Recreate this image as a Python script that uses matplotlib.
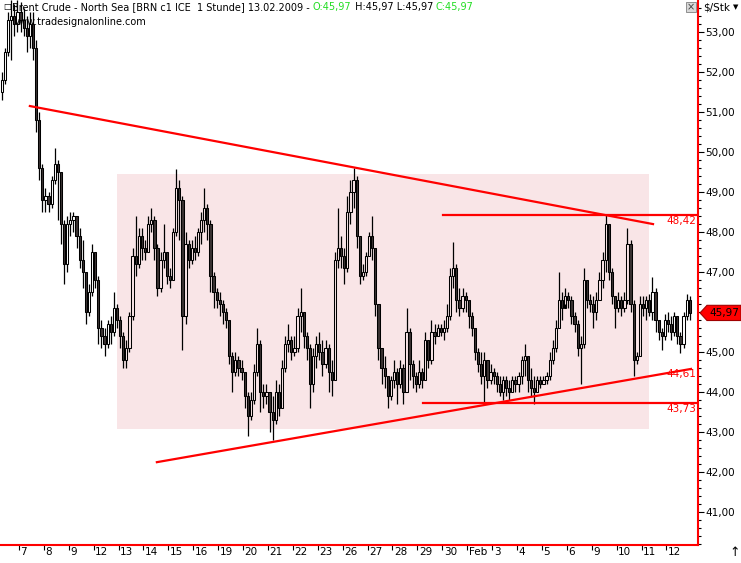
import matplotlib
matplotlib.use('Agg')
import matplotlib.pyplot as plt
import numpy as np
from matplotlib.patches import Rectangle, Polygon
from matplotlib.ticker import MultipleLocator

# Brent Crude hourly, 6 Jan - 12 Feb 2009 (8 bars per trading day, Jan 6 partial)
first_open = 51.5
closes = [
    51.8, 52.5, 53.3, 53.4, 53.2, 53.5,                      # 6
    53.3, 53.1, 52.9, 53.2, 52.6, 50.8, 49.6, 48.8,          # 7
    48.9, 48.7, 49.3, 49.7, 49.5, 48.2, 47.2, 48.2,          # 8
    48.3, 48.4, 47.9, 47.3, 47.0, 46.0, 46.5, 47.5,          # 9
    46.8, 45.6, 45.4, 45.2, 45.7, 45.5, 46.1, 45.8,          # 12
    45.4, 44.8, 45.1, 45.9, 47.4, 47.2, 47.9, 47.6,          # 13
    47.5, 48.2, 48.3, 47.6, 46.6, 47.3, 47.5, 46.9,          # 14
    46.8, 48.0, 49.1, 48.8, 45.9, 47.7, 47.3, 47.6,          # 15
    47.5, 48.0, 48.3, 48.6, 48.2, 46.9, 46.5, 46.3,          # 16
    46.2, 46.0, 45.8, 44.9, 44.5, 44.8, 44.6, 44.5,          # 19
    43.9, 43.4, 43.8, 44.5, 45.2, 44.0, 43.9, 44.0,          # 20
    43.5, 43.3, 44.0, 43.6, 44.6, 45.2, 45.3, 45.0,          # 21
    45.1, 45.9, 46.0, 45.4, 45.1, 44.2, 44.9, 45.2,          # 22
    45.0, 44.7, 45.1, 44.5, 44.3, 47.3, 47.6, 47.4,          # 23
    47.1, 48.5, 49.0, 49.3, 47.9, 46.9, 47.0, 47.4,          # 26
    47.9, 47.6, 46.2, 45.1, 44.6, 44.4, 43.9, 44.3,          # 27
    44.5, 44.2, 44.6, 44.0, 45.5, 44.7, 44.4, 44.2,          # 28
    44.5, 44.3, 45.3, 44.8, 45.5, 45.4, 45.6, 45.5,          # 29
    45.6, 45.9, 46.9, 47.1, 46.3, 46.1, 46.4, 46.3,          # 30
    45.9, 45.6, 45.0, 44.7, 44.4, 44.8, 44.3, 44.5,          # Feb 2
    44.4, 44.2, 44.0, 44.3, 44.1, 44.0, 44.3, 44.2,          # 3
    44.4, 44.8, 44.9, 44.3, 44.1, 44.0, 44.3, 44.2,          # 4
    44.3, 44.4, 44.8, 45.1, 45.6, 46.3, 46.1, 46.4,          # 5
    46.3, 45.9, 45.7, 45.1, 45.2, 46.8, 46.3, 46.2,          # 6
    46.0, 46.3, 46.8, 47.3, 48.2, 47.0, 46.4, 46.1,          # 9
    46.3, 46.1, 46.3, 47.7, 46.2, 44.8, 44.9, 46.2,          # 10
    46.1, 46.3, 46.0, 46.5, 45.8, 45.5, 45.4, 45.8,          # 11
    45.7, 45.5, 45.9, 45.4, 45.2, 45.9, 46.3, 45.97,         # 12
]
highs = [
    52.0, 52.6, 53.5, 53.8, 53.7, 53.8,
    53.75, 53.6, 53.4, 53.5, 53.5, 52.8, 51.0, 49.7,
    49.1, 49.0, 49.4, 50.1, 49.8, 48.9, 48.3, 48.4,
    48.5, 48.5, 48.3, 48.1, 47.8, 47.0, 46.7, 47.7,
    47.5, 46.9, 45.8, 45.6, 45.8, 45.9, 46.5, 46.2,
    45.9, 45.5, 45.3, 46.0, 47.6, 48.4, 48.1, 48.1,
    47.8, 48.4, 48.6, 48.4, 47.7, 47.5, 48.2, 47.5,
    47.1, 48.1, 49.57, 49.3, 48.9, 48.0, 47.8, 47.8,
    47.9, 48.1, 48.5, 49.1, 48.7, 48.3, 47.0, 46.6,
    46.5, 46.3, 46.1, 45.8, 45.0, 45.0, 44.9, 44.8,
    44.5, 44.0, 44.0, 44.7, 45.6, 45.3, 44.2, 44.2,
    44.0, 43.9, 44.3, 44.2, 44.8, 45.4, 45.7, 45.4,
    45.4, 46.1, 46.6, 46.0, 45.5, 45.2, 45.1, 45.4,
    45.5, 45.3, 45.3, 45.2, 44.8, 47.5, 48.6, 47.9,
    47.6, 48.9, 49.3, 49.6, 49.4, 47.9, 47.2, 47.5,
    48.0, 48.4, 47.6, 46.2, 45.0, 44.9, 44.4, 44.4,
    44.8, 44.6, 44.8, 44.7, 46.1, 45.6, 44.8, 44.5,
    44.8, 44.6, 45.5, 45.3, 45.8, 45.7, 45.7, 45.7,
    45.8, 46.2, 47.1, 47.74, 47.2, 46.6, 46.6, 46.5,
    46.3, 46.0, 45.6, 45.1, 45.0, 45.0, 44.8, 44.7,
    44.6, 44.5, 44.4, 44.4, 44.4, 44.3, 44.4, 44.4,
    44.5, 44.9, 45.2, 44.9, 44.6, 44.4, 44.4, 44.4,
    44.4, 44.5, 45.0, 45.3, 45.8, 47.0, 46.5, 46.6,
    46.5, 46.4, 46.0, 45.8, 45.4, 47.1, 46.8, 46.45,
    46.4, 46.5, 47.0, 47.5, 48.42, 48.2, 47.1, 46.4,
    46.5, 46.4, 46.5, 48.08, 47.8, 46.3, 45.0, 46.4,
    46.4, 46.4, 46.45, 46.87, 46.6, 45.8, 45.6, 45.95,
    46.0, 45.9, 46.0, 45.9, 45.5, 46.0, 46.45, 46.4,
]
lows = [
    51.3, 51.7, 52.4, 52.3, 52.9, 53.0,
    53.0, 52.9, 52.5, 52.6, 52.3, 50.5, 49.3, 48.5,
    48.5, 48.5, 48.6, 49.2, 48.3, 47.7, 46.7, 47.0,
    47.9, 48.0, 47.6, 47.1, 46.6, 45.7, 45.9, 46.4,
    46.6, 45.2, 45.1, 44.9, 45.1, 45.2, 45.4, 45.6,
    45.1, 44.6, 44.6, 45.0, 45.8, 46.9, 47.1, 47.3,
    47.3, 47.5, 48.0, 47.3, 46.4, 46.5, 47.1, 46.7,
    46.6, 46.8, 47.9, 47.8, 45.05, 45.7, 47.1, 47.2,
    47.3, 47.4, 47.7, 48.0, 47.8, 46.5, 46.1, 46.1,
    45.9, 45.7, 45.6, 44.7, 44.0, 44.4, 44.4, 44.3,
    43.6, 42.9, 43.3, 43.7, 44.4, 43.5, 43.6, 43.7,
    43.0, 42.8, 43.2, 43.4, 43.6, 44.5, 45.0, 44.8,
    44.9, 45.0, 45.5, 45.1, 44.8, 43.6, 44.0, 44.6,
    44.8, 44.4, 44.6, 44.0, 43.9, 44.3, 47.1, 47.1,
    46.7, 47.0, 48.2, 48.6, 47.6, 46.7, 46.8, 46.9,
    47.4, 47.3, 45.9, 44.8, 44.2, 44.1, 43.6, 43.8,
    44.1, 43.7, 44.1, 43.7, 44.0, 44.3, 44.1, 44.0,
    44.1, 44.1, 44.3, 44.6, 44.7, 45.2, 45.4, 45.4,
    45.3, 45.5, 45.8, 46.6, 46.0, 45.9, 46.0, 46.0,
    45.6, 45.4, 44.8, 44.5, 44.2, 43.7, 44.1, 44.2,
    44.2, 44.0, 43.9, 43.8, 43.9, 43.8, 44.0, 44.0,
    44.0, 44.2, 44.4, 44.0, 43.9, 43.7, 44.0, 44.1,
    44.2, 44.2, 44.3, 44.7, 45.0, 45.6, 45.8, 46.2,
    46.1, 45.7, 45.5, 44.9, 44.2, 45.1, 46.1, 46.0,
    45.6, 45.8, 46.3, 46.6, 47.0, 46.8, 46.2, 45.6,
    46.0, 45.9, 46.0, 46.2, 46.0, 44.4, 44.7, 44.9,
    45.9, 45.8, 45.9, 45.8, 45.5, 45.3, 45.05, 45.3,
    45.5, 45.3, 45.4, 45.2, 44.96, 45.1, 45.8, 45.8,
]

day_labels = ['7', '8', '9', '12', '13', '14', '15', '16', '19', '20', '21', '22', '23',
              '26', '27', '28', '29', '30', 'Feb', '3', '4', '5', '6', '9', '10', '11', '12']
bars_per_day = 8
first_day_start = 5.5

# drawn analysis objects (bar index, price)
trend_down_x = [9.0, 209.2]
trend_down_y = [51.14, 48.19]
trend_up_x = [49.8, 221.4]
trend_up_y = [42.24, 44.57]
level_hi = 48.42
level_hi_start = 141.7
level_lo = 43.73
level_lo_start = 135.3
level_up_label = 44.61
zone_x = [37.0, 207.9]
zone_y = [43.07, 49.44]
last_price = 45.97

closes = np.array(closes)
highs = np.array(highs)
lows = np.array(lows)
opens = np.concatenate([[first_open], closes[:-1]])
x = np.arange(len(closes))
top = np.maximum(opens, closes)
bot = np.minimum(opens, closes)
up = closes >= opens

plt.rcParams['font.family'] = 'DejaVu Sans'
fig = plt.figure(figsize=(7.41, 5.63), dpi=100)
ax = fig.add_axes([0, 18 / 563, 698 / 741, 545 / 563])
ax.set_xlim(-0.6, 223.65)
ax.set_ylim(40.17, 53.79)

# pink zone
ax.add_patch(Rectangle((zone_x[0], zone_y[0]), zone_x[1] - zone_x[0], zone_y[1] - zone_y[0],
                       facecolor='#f9e5e7', edgecolor='none', zorder=0))

ax.text(12 / 698, 1 - 22 / 545, 'www.tradesignalonline.com', transform=ax.transAxes,
        fontsize=7, va='center', ha='left', zorder=1)

# candles
ax.vlines(x, top, highs, color='black', lw=0.9, zorder=3)
ax.vlines(x, lows, bot, color='black', lw=0.9, zorder=3)
h = np.maximum(top - bot, 0.02)
ax.bar(x[up], h[up], bottom=bot[up], width=0.72, facecolor='none',
       edgecolor='black', lw=0.75, zorder=4)
ax.bar(x[~up], h[~up], bottom=bot[~up], width=0.72, facecolor='#3a3232',
       edgecolor='black', lw=0.75, zorder=4)

# lines
red = '#ff0000'
ax.plot(trend_down_x, trend_down_y, color=red, lw=1.6, zorder=5)
ax.plot(trend_up_x, trend_up_y, color=red, lw=1.6, zorder=5)
ax.plot([level_hi_start, 223.65], [level_hi, level_hi], color=red, lw=1.6, zorder=5)
ax.plot([level_lo_start, 223.65], [level_lo, level_lo], color=red, lw=1.6, zorder=5)
for v in [level_hi, level_up_label, level_lo]:
    ax.text(0.997, v - 0.04, f"{v:.2f}".replace('.', ','), transform=ax.get_yaxis_transform(),
            ha='right', va='top', color=red, fontsize=7.5, zorder=6)

# axes styling
for s in ['left', 'top']:
    ax.spines[s].set_visible(False)
for s in ['right', 'bottom']:
    ax.spines[s].set_color(red)
    ax.spines[s].set_linewidth(1.5)

ax.yaxis.tick_right()
yt = np.arange(41, 54)
ax.set_yticks(yt)
# the 46,00 label sits under the last-price marker
ax.set_yticklabels(['' if v == 46 else f"{v},00" for v in yt])
ax.yaxis.set_minor_locator(MultipleLocator(0.2))
ax.tick_params(axis='y', which='major', length=4, width=0.8, pad=1.5, labelsize=7.5)
ax.tick_params(axis='y', which='minor', length=2.5, width=0.8)

ticks = first_day_start + bars_per_day * np.arange(len(day_labels))
ax.set_xticks(ticks)
ax.set_xticklabels([])
ax.set_xticks(ticks + 0.5, minor=True)
ax.set_xticklabels(day_labels, minor=True)
ax.tick_params(axis='x', which='major', length=3.5, width=0.8, color='black')
ax.tick_params(axis='x', which='minor', length=0, pad=1.5, labelsize=7.5)
for lbl in ax.get_xticklabels(minor=True):
    lbl.set_ha('left')

# last price marker
ty = ax.get_yaxis_transform()
px = lambda p: p / 698
marker = Polygon([(px(700), last_price), (px(707), last_price + 0.19), (px(741), last_price + 0.19),
                  (px(741), last_price - 0.19), (px(707), last_price - 0.19)],
                 closed=True, facecolor=red, edgecolor='#a00000', lw=0.8,
                 transform=ty, clip_on=False, zorder=7)
ax.add_patch(marker)
ax.text(px(724), last_price, f"{last_price:.2f}".replace('.', ','), transform=ty,
        ha='center', va='center', fontsize=7.5, color='black', clip_on=False, zorder=8)

# header
fig.canvas.draw()
renderer = fig.canvas.get_renderer()
parts = [('Brent Crude - North Sea [BRN c1 ICE  1 Stunde] 13.02.2009 - ', 'black'),
         ('O:45,97', '#22dd22'), (' H:45,97 L:45,97 ', 'black'), ('C:45,97', '#22dd22')]
xp = 12
for s, c in parts:
    t = fig.text(xp / 741, 1 - 7 / 563, s, fontsize=7.05, color=c, va='center', ha='left')
    bb = t.get_window_extent(renderer)
    xp = bb.x1
fig.text(3 / 741, 1 - 7 / 563, '\u25a1', fontsize=6, va='center', ha='left')
fig.text(703 / 741, 1 - 7 / 563, '$/Stk', fontsize=7.5, va='center', ha='left')
fig.text(733 / 741, 1 - 7 / 563, '\u25bc', fontsize=5, va='center', ha='left')
fig.add_artist(Rectangle((686 / 741, 1 - 12 / 563), 10 / 741, 10 / 563, transform=fig.transFigure,
                         facecolor='#d8d8d8', edgecolor='#808080', lw=0.6))
fig.text(691 / 741, 1 - 7 / 563, '\u00d7', fontsize=7, va='center', ha='center', color='#404040')
fig.text(735 / 741, 1 - 553 / 563, '\u2191', fontsize=9, va='center', ha='center')

fig.savefig('out.png', dpi=100)
